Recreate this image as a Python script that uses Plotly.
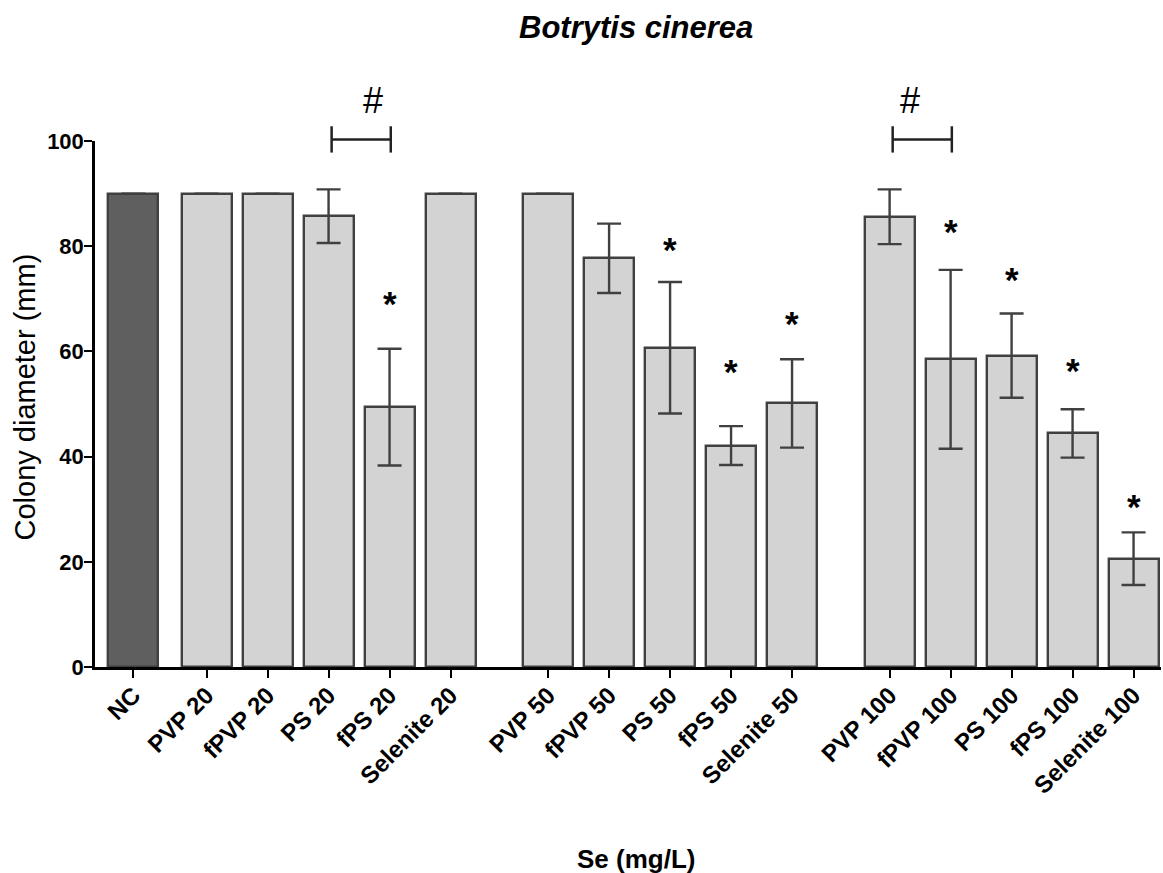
import plotly.graph_objects as go

# ---- data ----
categories = ["NC", "PVP 20", "fPVP 20", "PS 20", "fPS 20", "Selenite 20",
              "PVP 50", "fPVP 50", "PS 50", "fPS 50", "Selenite 50",
              "PVP 100", "fPVP 100", "PS 100", "fPS 100", "Selenite 100"]
means = [90, 90, 90, 85.7, 49.4, 90,
         90, 77.7, 60.7, 42.1, 50.1,
         85.6, 58.5, 59.2, 44.4, 20.6]
sd = [None, None, None, 5.1, 11.1, None,
      None, 6.6, 12.5, 3.7, 8.4,
      5.2, 17.0, 8.0, 4.6, 5.0]
groups = [0, 1, 1, 1, 1, 1, 2, 2, 2, 2, 2, 3, 3, 3, 3, 3]
# significance stars: (category, height of mark)
star_cats = ["fPS 20", "PS 50", "fPS 50", "Selenite 50",
             "fPVP 100", "PS 100", "fPS 100", "Selenite 100"]
star_y = [70.2, 80.6, 57.4, 66.5, 84.0, 74.9, 57.6, 31.6]
# '#' comparisons
hash_pairs = [("PS 20", "fPS 20"), ("PVP 100", "fPVP 100")]
y_ticks = [0, 20, 40, 60, 80, 100]

# ---- layout helpers ----
group_offset = {0: 0.0, 1: 0.2, 2: 0.8, 3: 1.4}
xpos = [i + group_offset[g] for i, g in enumerate(groups)]
xmap = dict(zip(categories, xpos))
XMIN, XMAX = -0.63, 16.85
YMIN, YMAX = 0, 100

FONT = "Liberation Sans, Arial, sans-serif"
EDGE = "#404040"
colors = ["#5f5f5f"] + ["#d3d3d3"] * (len(categories) - 1)

fig = go.Figure()
fig.add_trace(go.Bar(
    x=xpos, y=means, width=0.82,
    marker=dict(color=colors, line=dict(color=EDGE, width=2.4)),
    error_y=dict(type="data", array=sd, visible=True,
                 color=EDGE, thickness=2.4, width=12),
    hoverinfo="skip", showlegend=False,
))

def px(x):
    return (x - XMIN) / (XMAX - XMIN)
def py(y):
    return (y - YMIN) / (YMAX - YMIN)

annotations = []
for c, yv in zip(star_cats, star_y):
    annotations.append(dict(x=xmap[c], y=yv, xref="x", yref="y",
                            text="<b>*</b>", showarrow=False,
                            font=dict(family=FONT, size=35, color="black"),
                            yanchor="middle", yshift=-6))

shapes = []
for a, b in hash_pairs:
    x0, x1 = xmap[a] + 0.05, xmap[b] + 0.02
    yb = 100.3
    line = dict(color="#222222", width=2.5)
    shapes.append(dict(type="line", xref="paper", yref="paper",
                       x0=px(x0), x1=px(x1), y0=py(yb), y1=py(yb), line=line))
    for xx in (x0, x1):
        shapes.append(dict(type="line", xref="paper", yref="paper",
                           x0=px(xx), x1=px(xx), y0=py(yb - 2.5), y1=py(yb + 2.5), line=line))
    annotations.append(dict(x=px((x0 + x1) / 2), y=py(107.8), xref="paper", yref="paper",
                            text="#", showarrow=False,
                            font=dict(family=FONT, size=36, color="black"),
                            yanchor="middle", yshift=-1))

# title and axis titles
annotations.append(dict(x=(635.5 - 95) / 1066, y=(667 - 27) / 526, xref="paper", yref="paper",
                        text="<b><i>Botrytis cinerea</i></b>", showarrow=False,
                        font=dict(family=FONT, size=31, color="black"), yanchor="middle"))
annotations.append(dict(x=(636 - 95) / 1066, y=(667 - 859) / 526, xref="paper", yref="paper",
                        text="<b>Se (mg/L)</b>", showarrow=False,
                        font=dict(family=FONT, size=26, color="black"), yanchor="middle"))
annotations.append(dict(x=(24 - 95) / 1066, y=(667 - 397.5) / 526, xref="paper", yref="paper",
                        text="Colony diameter (mm)", showarrow=False, textangle=-90,
                        font=dict(family=FONT, size=29, color="black"),
                        xanchor="center", yanchor="middle"))

fig.update_layout(
    width=1163, height=873,
    margin=dict(l=95, r=2, t=141, b=206),
    plot_bgcolor="white", paper_bgcolor="white",
    bargap=0, annotations=annotations, shapes=shapes,
    xaxis=dict(range=[XMIN, XMAX], tickvals=xpos, ticktext=categories,
               tickangle=-45, showline=True, linecolor="black", linewidth=2.5,
               ticks="outside", ticklen=8, tickwidth=2.2, tickcolor="black",
               showgrid=False, zeroline=False, ticklabelstandoff=-6,
               tickfont=dict(family=FONT, size=24, color="black", weight="bold")),
    yaxis=dict(range=[YMIN, YMAX], tickvals=y_ticks,
               showline=True, linecolor="black", linewidth=2.5,
               ticks="outside", ticklen=8, tickwidth=2.2, tickcolor="black",
               showgrid=False, zeroline=False, ticklabelstandoff=-4,
               tickfont=dict(family=FONT, size=22, color="black", weight="bold")),
)

fig.write_html("out.html")
